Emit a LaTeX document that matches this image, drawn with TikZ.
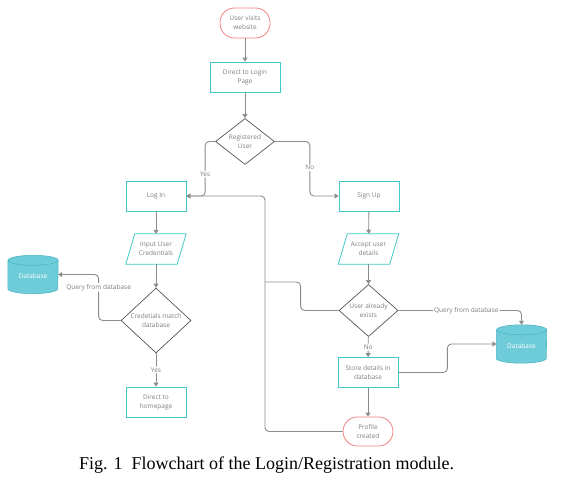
\documentclass[tikz,border=0pt]{standalone}
\usepackage{fontspec}
\setmainfont{Liberation Serif}
\newfontfamily\nodefont{Open Sans}
\usetikzlibrary{shapes.geometric,arrows.meta,calc}
\definecolor{boxc}{RGB}{64,200,200}
\definecolor{termc}{RGB}{240,128,128}
\definecolor{dmdc}{RGB}{85,85,85}
\definecolor{linec}{RGB}{140,140,140}
\definecolor{txtc}{RGB}{125,125,125}
\definecolor{dbfill}{RGB}{110,204,216}
\definecolor{dbline}{RGB}{78,182,196}
\tikzset{
  every node/.style={font=\nodefont\fontsize{6.5}{9}\selectfont, text=txtc, align=center, inner sep=0pt},
  term/.style={draw=termc, line width=0.8pt, rounded corners=14.5pt, minimum width=50pt, minimum height=30pt},
  proc/.style={draw=boxc, line width=0.8pt, minimum width=60pt, minimum height=30pt},
  iobox/.style={minimum width=60pt, minimum height=30pt},
  dec/.style={draw=dmdc, diamond, line width=0.7pt},
  dbnode/.style={text=white, minimum width=50pt, minimum height=38pt},
  conn/.style={draw=linec, line width=0.9pt, rounded corners=4pt},
  arr/.style={conn, -{Triangle[width=5pt,length=4pt]}},
  lbl/.style={fill=white, inner sep=1pt},
}
\newcommand{\parabox}[1]{%
  \draw[draw=boxc, line width=0.8pt] (#1.south west) -- ($(#1.south east)+(-9,0)$) -- (#1.north east) -- ($(#1.north west)+(9,0)$) -- cycle;}
\newcommand{\cyl}[1]{%
  \fill[dbfill] ($(#1.north west)+(0,5)$) -- ($(#1.south west)+(0,-5)$)
     arc[start angle=180,end angle=0,x radius=25,y radius=5]
     -- ($(#1.north east)+(0,5)$)
     arc[start angle=0,end angle=-180,x radius=25,y radius=5] -- cycle;
  \draw[dbline, line width=0.6pt] ($(#1.north west)+(0,5)$) -- ($(#1.south west)+(0,-5)$)
     arc[start angle=180,end angle=0,x radius=25,y radius=5]
     -- ($(#1.north east)+(0,5)$)
     arc[start angle=0,end angle=-180,x radius=25,y radius=5]
     arc[start angle=180,end angle=0,x radius=25,y radius=5];}
\begin{document}
\begin{tikzpicture}[x=1pt,y=-1pt]
\useasboundingbox (0,0) rectangle (562,489);
% nodes
\node[term] (start) at (245,23) {User visits\\website};
\node[proc, minimum width=70pt] (login) at (245,77) {Direct to Login\\Page};
\node[dec, minimum width=59pt, minimum height=39pt] (reg) at (245,141.5) {Registered\\User};
\node[proc] (logIn) at (156,196) {Log In};
\node[proc] (signup) at (369,196) {Sign Up};
\node[iobox] (in1) at (156,249) {Input User\\Credentials};
\parabox{in1}
\node[iobox] (acc) at (368.5,249) {Accept user\\details};
\parabox{acc}
\node[dec, minimum width=70pt, minimum height=53pt] (cred) at (156,320.5) {Credetials match\\database};
\node[dec, minimum width=59pt, minimum height=43pt] (exists) at (368.5,310.5) {User already\\exists};
\node[proc] (home) at (156,402) {Direct to\\homepage};
\node[proc] (store) at (368,372.5) {Store details in\\database};
\node[term, minimum height=29pt] (profile) at (368,431.5) {Profile\\created};
\node[dbnode] (db1) at (33,274.5) {};
\cyl{db1}
\node[dbnode] (db1t) at (33,276) {Database};
\node[dbnode] (db2) at (521.5,344) {};
\cyl{db2}
\node[dbnode] (db2t) at (521.5,346) {Database};
\coordinate (j1) at (265,196);
\coordinate (j2) at (265,282);
% connectors
\draw[arr] (start) -- (login);
\draw[arr] (login) -- (reg);
\draw[arr] (reg.west) -- ++(-10,0) |- node[lbl, pos=0.3] {Yes} (logIn.east);
\draw[arr] (reg.east) -- ++(35,0) |- node[lbl, pos=0.24] {No} (signup.west);
\draw[arr] (logIn) -- (in1);
\draw[arr] (in1) -- (cred);
\draw[arr] (cred) -- node[lbl] {Yes} (home);
\draw[arr] (cred.west) -- ++(-22,0) |- node[lbl, pos=0.36] {Query from database} (db1.east);
\draw[arr] (signup) -- (acc);
\draw[arr] (acc) -- (exists);
\draw[arr] (exists) -- node[lbl] {No} (store);
\draw[arr] (store) -- (profile);
\draw[arr] (store.east) -- ++(49,0) |- (db2.west);
\draw[arr] (exists.east) -| node[lbl, pos=0.276] {Query from database} (db2.north);
\draw[arr] (profile.west) -| (j1) -- (logIn.east);
\draw[conn] (exists.west) -- ++(-38,0) |- (j2);
% caption
\node[font=\fontsize{18}{21}\selectfont, text=black, anchor=base] (cap) at (266.5,469.5) {Fig. 1\ \ Flowchart of the Login/Registration module.};
\end{tikzpicture}
\end{document}
